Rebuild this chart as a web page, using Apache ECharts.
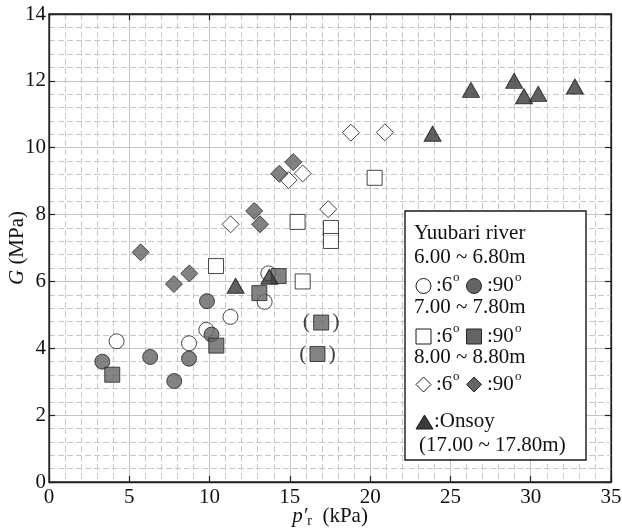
<!DOCTYPE html>
<html style="height: 100%">
<head>
  <meta charset="utf-8">
</head>
<body style="height: 100%; margin: 0; background: #fff">
  <div id="container" style="width: 622px; height: 530px"></div>
  <script type="text/javascript" src="https://fastly.jsdelivr.net/npm/echarts@6/dist/echarts.min.js"></script>
  <script type="text/javascript">
    // p'r (kPa) , G (MPa)
    var open6Circle = [[4.21, 4.21], [8.72, 4.15], [9.80, 4.55], [11.30, 4.94], [13.43, 5.39], [13.66, 6.24]];
    var fill90Circle = [[3.32, 3.60], [6.30, 3.74], [7.80, 3.02], [8.72, 3.69], [9.84, 5.41], [10.12, 4.41]];
    var open6Square = [[10.40, 6.46], [15.48, 7.78], [15.80, 6.00], [17.56, 7.60], [17.56, 7.21], [20.28, 9.10]];
    var fill90Square = [[3.94, 3.21], [10.42, 4.08], [13.10, 5.65], [14.30, 6.16]];
    var fill90SquareParen = [[16.95, 4.77], [16.72, 3.83]];
    var open6Diamond = [[11.31, 7.71], [14.92, 9.03], [15.80, 9.23], [17.39, 8.16], [18.80, 10.45], [20.92, 10.46]];
    var fill90Diamond = [[5.71, 6.87], [7.78, 5.92], [8.74, 6.24], [12.78, 8.11], [13.14, 7.71], [14.34, 9.22], [15.21, 9.57]];
    var onsoy = [[11.62, 5.87], [13.72, 6.14], [23.89, 10.42], [26.28, 11.73], [28.97, 12.00], [29.58, 11.54], [30.47, 11.61], [32.75, 11.83]];

    var xTicks = [0, 5, 10, 15, 20, 25, 30, 35];
    var yTicks = [0, 2, 4, 6, 8, 10, 12, 14];

    var FONT = '"Liberation Serif", "Times New Roman", serif';
    var openStyle = { color: '#fff', borderColor: '#1a1a1a', borderWidth: 1 };
    var fillStyle = { color: '#646464', borderColor: '#262626', borderWidth: 1 };
    var triStyle = { color: '#3a3a3a', borderColor: '#1a1a1a', borderWidth: 1 };

    var dom = document.getElementById('container');
    var myChart = echarts.init(dom, null, { renderer: 'canvas' });

    function baseAxis(ticks, pos) {
      return {
        type: 'value',
        position: pos,
        min: ticks[0],
        max: ticks[ticks.length - 1],
        interval: ticks[1] - ticks[0],
        axisLine: { show: true, onZero: false, lineStyle: { color: '#222', width: 1.3 } },
        axisTick: { show: true, inside: true, length: 6, lineStyle: { color: '#222', width: 1.2 } },
        axisLabel: { show: false },
        splitLine: { show: false }
      };
    }

    var xMain = baseAxis(xTicks, 'bottom');
    xMain.axisLabel = { show: true, color: '#111', fontFamily: FONT, fontSize: 21, margin: 5 };
    xMain.splitLine = { show: true, lineStyle: { color: '#c4c4c4', width: 1 } };
    xMain.minorTick = { show: false, splitNumber: 5 };
    xMain.minorSplitLine = { show: true, lineStyle: { color: '#c8c8c8', width: 1, type: [6, 3] } };
    xMain.name = '{i|p\u2032}{s|r}{n|  (kPa)}';
    xMain.nameLocation = 'middle';
    xMain.nameGap = 22;
    xMain.nameMoveOverlap = false;
    xMain.nameTextStyle = {
      color: '#111',
      rich: {
        i: { fontFamily: FONT, fontSize: 21, fontStyle: 'italic', color: '#111' },
        s: { fontFamily: FONT, fontSize: 14, color: '#111', verticalAlign: 'bottom', padding: [10, 0, 0, 0] },
        n: { fontFamily: FONT, fontSize: 21, color: '#111' }
      }
    };

    var yMain = baseAxis(yTicks, 'left');
    yMain.axisLabel = { show: true, color: '#111', fontFamily: FONT, fontSize: 21, margin: 3 };
    yMain.splitLine = { show: true, lineStyle: { color: '#c4c4c4', width: 1 } };
    yMain.minorTick = { show: false, splitNumber: 5 };
    yMain.minorSplitLine = { show: true, lineStyle: { color: '#c8c8c8', width: 1, type: [6, 3] } };
    yMain.name = '{i|G}{n| (MPa)}';
    yMain.nameLocation = 'middle';
    yMain.nameGap = 21;
    yMain.nameMoveOverlap = false;
    yMain.nameTextStyle = {
      color: '#111',
      rich: {
        i: { fontFamily: FONT, fontSize: 21, fontStyle: 'italic', color: '#111' },
        n: { fontFamily: FONT, fontSize: 21, color: '#111' }
      }
    };

    function scatter(name, data, symbol, size, style, z) {
      return {
        name: name,
        type: 'scatter',
        data: data,
        symbol: symbol,
        symbolSize: size,
        itemStyle: style,
        z: z,
        silent: true
      };
    }

    // legend (drawn by hand, placed like the original box)
    var lx = 414, sx1 = 423.5, sx2 = 474;
    function txt(x, y, s, size) {
      return { type: 'text', z: 110, style: { x: x, y: y, text: s, fill: '#111', fontFamily: FONT, fontSize: size || 21, verticalAlign: 'middle' } };
    }
    function degRow(y) {
      return [txt(436, y, ':6'), txt(453, y - 7, 'o', 13), txt(487, y, ':90'), txt(515, y - 7, 'o', 13)];
    }
    var legendEls = [
      { type: 'rect', z: 100, shape: { x: 405, y: 211, width: 181, height: 249 }, style: { fill: '#fff', stroke: '#1a1a1a', lineWidth: 1.4 } },
      txt(lx, 233, 'Yuubari river'),
      txt(lx, 257, '6.00 ~ 6.80m'),
      { type: 'circle', z: 110, shape: { cx: sx1, cy: 286, r: 7.5 }, style: { fill: '#fff', stroke: '#1a1a1a', lineWidth: 1 } },
      { type: 'circle', z: 110, shape: { cx: sx2, cy: 286, r: 7.5 }, style: { fill: '#646464', stroke: '#262626', lineWidth: 1 } },
      txt(lx, 307, '7.00 ~ 7.80m'),
      { type: 'rect', z: 110, shape: { x: sx1 - 7.5, y: 329, width: 15, height: 15 }, style: { fill: '#fff', stroke: '#1a1a1a', lineWidth: 1 } },
      { type: 'rect', z: 110, shape: { x: sx2 - 7.5, y: 329, width: 15, height: 15 }, style: { fill: '#646464', stroke: '#262626', lineWidth: 1 } },
      txt(lx, 357, '8.00 ~ 8.80m'),
      { type: 'polygon', z: 110, shape: { points: [[sx1, 377], [sx1 + 7.5, 384.5], [sx1, 392], [sx1 - 7.5, 384.5]] }, style: { fill: '#fff', stroke: '#1a1a1a', lineWidth: 1 } },
      { type: 'polygon', z: 110, shape: { points: [[sx2, 377], [sx2 + 7.5, 384.5], [sx2, 392], [sx2 - 7.5, 384.5]] }, style: { fill: '#646464', stroke: '#262626', lineWidth: 1 } },
      { type: 'polygon', z: 110, shape: { points: [[424.5, 415], [433, 429], [416, 429]] }, style: { fill: '#3a3a3a', stroke: '#1a1a1a', lineWidth: 1 } },
      txt(434, 421, ':Onsoy'),
      txt(419, 445, '(17.00 ~ 17.80m)')
    ].concat(degRow(285), degRow(336), degRow(384));

    var option = {
      animation: false,
      backgroundColor: '#fff',
      grid: {
        left: 49, right: 11, top: 14, bottom: 48,
        containLabel: false, outerBoundsMode: 'none',
        show: true, borderColor: '#222', borderWidth: 1.3, backgroundColor: 'transparent'
      },
      xAxis: [xMain, baseAxis(xTicks, 'top')],
      yAxis: [yMain, baseAxis(yTicks, 'right')],
      series: [
        scatter('6-6.8m 6deg', open6Circle, 'circle', 15, openStyle, 2),
        scatter('7-7.8m 6deg', open6Square, 'rect', 15, openStyle, 2),
        scatter('8-8.8m 6deg', open6Diamond, 'diamond', 17, openStyle, 2),
        scatter('6-6.8m 90deg', fill90Circle, 'circle', 15, fillStyle, 3),
        scatter('7-7.8m 90deg', fill90Square, 'rect', 15, fillStyle, 3),
        scatter('8-8.8m 90deg', fill90Diamond, 'diamond', 17, fillStyle, 3),
        {
          name: '7-7.8m 90deg (paren)',
          type: 'scatter',
          data: fill90SquareParen,
          symbol: 'rect',
          symbolSize: 15,
          itemStyle: fillStyle,
          z: 3,
          silent: true,
          label: {
            show: true,
            position: 'inside',
            formatter: '{p|(}{g|}{p|)}',
            rich: {
              p: { fontFamily: FONT, fontSize: 22, color: '#111' },
              g: { width: 22 }
            }
          }
        },
        scatter('Onsoy', onsoy, 'triangle', [17, 15], triStyle, 4)
      ],
      graphic: legendEls
    };

    myChart.setOption(option);
    window.addEventListener('resize', myChart.resize);
  </script>
</body>
</html>
